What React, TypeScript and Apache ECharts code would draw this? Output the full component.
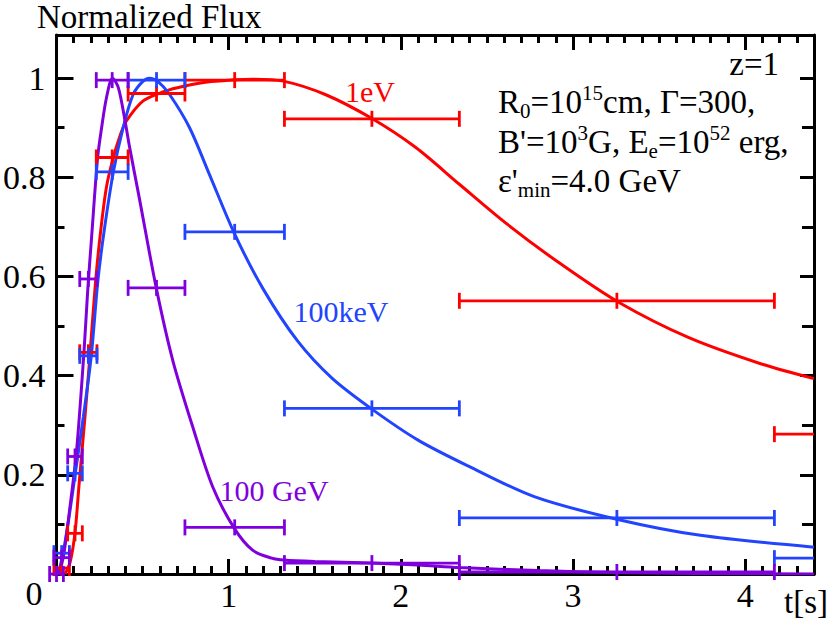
import React, { useEffect, useRef } from "react";
import * as echarts from "echarts";

const FONT = "Liberation Serif";
const RED = "#ff0000";
const BLUE = "#2244ff";
const PURPLE = "#8000dd";

// time bins (s)
const binLo = [-0.04, -0.015, 0.065, 0.135, 0.231, 0.416, 0.746, 1.324, 2.34, 4.17];
const binHi = [0.04, 0.075, 0.15, 0.235, 0.416, 0.746, 1.324, 2.34, 4.17, 7.4];

// binned fluxes
const redBins = [null, 0.012, 0.082, 0.447, 0.84, 0.969, 0.996, 0.918, 0.551, 0.282];
const blueBins = [null, 0.042, 0.203, 0.44, 0.811, 0.996, 0.69, 0.334, 0.113, 0.032];
const purpleBins = [0.0, 0.033, 0.237, 0.595, 0.996, 0.577, 0.094, 0.022, 0.004, null];

// light curves [t, flux]
const redCurve = [
  [0.05, 0], [0.08, 0.025], [0.108, 0.085], [0.131, 0.18], [0.166, 0.32], [0.194, 0.44],
  [0.227, 0.59], [0.256, 0.69], [0.29, 0.78], [0.33, 0.84], [0.37, 0.885], [0.405, 0.913],
  [0.503, 0.954], [0.618, 0.972], [0.744, 0.984], [0.9, 0.993], [1.14, 0.998], [1.318, 0.994],
  [1.561, 0.967], [1.83, 0.919], [2.087, 0.86], [2.34, 0.786], [2.616, 0.706], [2.93, 0.625],
  [3.265, 0.548], [3.67, 0.477], [4.09, 0.424], [4.4, 0.394],
];
const blueCurve = [
  [0.01, 0], [0.04, 0.045], [0.075, 0.12], [0.108, 0.2], [0.156, 0.317], [0.202, 0.44],
  [0.24, 0.59], [0.276, 0.69], [0.33, 0.81], [0.387, 0.9], [0.445, 0.967], [0.5, 0.993],
  [0.54, 1.0], [0.59, 0.993], [0.657, 0.967], [0.773, 0.9], [0.888, 0.806], [1.033, 0.687],
  [1.2, 0.575], [1.4, 0.47], [1.6, 0.395], [1.83, 0.333], [2.1, 0.27], [2.39, 0.218],
  [2.775, 0.156], [3.26, 0.11], [3.74, 0.078], [4.4, 0.054],
];
const purpleCurve = [
  [0.012, 0], [0.04, 0.035], [0.08, 0.14], [0.117, 0.25], [0.16, 0.45], [0.181, 0.57],
  [0.204, 0.68], [0.239, 0.84], [0.262, 0.9], [0.29, 0.96], [0.325, 1.0], [0.36, 0.98],
  [0.4, 0.91], [0.425, 0.86], [0.48, 0.76], [0.58, 0.576], [0.676, 0.43], [0.792, 0.296],
  [0.907, 0.176], [1.033, 0.092], [1.139, 0.048], [1.25, 0.032], [1.322, 0.028], [1.5, 0.025],
  [1.83, 0.022], [2.1, 0.018], [2.34, 0.013], [2.8, 0.007], [3.255, 0.003], [3.7, 0.001],
  [4.4, 0.0],
];

const xTickLabels = ["1", "2", "3", "4"];
const yTickLabels = ["0.2", "0.4", "0.6", "0.8", "1"];

const X_MAX = 4.4;
const Y_MAX = 1.087;

function binRows(vals: (number | null)[]) {
  const rows: number[][] = [];
  vals.forEach((v, i) => {
    if (v !== null) rows.push([binLo[i], binHi[i], v]);
  });
  return rows;
}

function errorSeries(color: string, vals: (number | null)[]) {
  return {
    type: "custom",
    xAxisIndex: 0,
    yAxisIndex: 0,
    clip: false,
    z: 3,
    encode: { x: [0, 1], y: 2 },
    data: binRows(vals),
    renderItem: (params: any, api: any) => {
      const lo = api.value(0);
      const hi = api.value(1);
      const y = api.value(2);
      const c = (lo + hi) / 2;
      const cs = params.coordSys;
      const right = cs.x + cs.width;
      const pLo = api.coord([lo, y]);
      const pHi = api.coord([hi, y]);
      const pC = api.coord([c, y]);
      const st = { stroke: color, lineWidth: 2.8, fill: "none" };
      const cap = 8;
      const children: any[] = [
        { type: "line", shape: { x1: pLo[0], y1: pLo[1], x2: Math.min(pHi[0], right), y2: pLo[1] }, style: st },
      ];
      [pLo[0], pC[0], pHi[0]].forEach((px) => {
        if (px <= right + 0.5) {
          children.push({ type: "line", shape: { x1: px, y1: pLo[1] - cap, x2: px, y2: pLo[1] + cap }, style: st });
        }
      });
      return { type: "group", children };
    },
  };
}

function lineSeries(color: string, data: number[][]) {
  return {
    type: "line",
    xAxisIndex: 0,
    yAxisIndex: 0,
    data,
    smooth: 0.3,
    showSymbol: false,
    symbol: "none",
    z: 2,
    lineStyle: { color, width: 3 },
  };
}

const black = "#000";

function xAx(position: string, interval: number, len: number, main: boolean, labels: boolean) {
  return {
    type: "value",
    position,
    min: 0,
    max: X_MAX,
    interval,
    axisLine: { show: main, onZero: false, lineStyle: { color: black, width: 3 } },
    axisTick: { show: true, inside: true, length: len, lineStyle: { color: black, width: 3 } },
    axisLabel: labels
      ? {
          show: true,
          color: black,
          fontFamily: FONT,
          fontSize: 34,
          margin: 4,
          formatter: (v: number) => {
            const k = Math.round(v);
            return Math.abs(v - k) < 1e-6 && k >= 1 && k <= 4 ? xTickLabels[k - 1] : "";
          },
        }
      : { show: false },
    splitLine: { show: false },
  };
}

function yAx(position: string, interval: number, len: number, main: boolean, labels: boolean) {
  return {
    type: "value",
    position,
    min: 0,
    max: Y_MAX,
    interval,
    axisLine: { show: main, onZero: false, lineStyle: { color: black, width: 3 } },
    axisTick: { show: true, inside: true, length: len, lineStyle: { color: black, width: 3 } },
    axisLabel: labels
      ? {
          show: true,
          color: black,
          fontFamily: FONT,
          fontSize: 34,
          margin: 11,
          formatter: (v: number) => {
            const k = Math.round(v * 5);
            return Math.abs(v * 5 - k) < 1e-6 && k >= 1 && k <= 5 ? yTickLabels[k - 1] : "";
          },
        }
      : { show: false },
    splitLine: { show: false },
  };
}

function txt(text: string, x: number, y: number, size: number, color: string, align: string, extra: any = {}) {
  return {
    type: "text",
    z: 10,
    style: {
      text,
      x,
      y,
      fill: color,
      font: size + "px " + FONT,
      align,
      verticalAlign: "middle",
      ...extra,
    },
  };
}

const richScripts = {
  sup: { fontSize: 21, fontFamily: FONT, verticalAlign: "top", lineHeight: 22 },
  sub: { fontSize: 21, fontFamily: FONT, verticalAlign: "bottom", lineHeight: 22 },
};

export default function App() {
  const ref = useRef<HTMLDivElement>(null);
  useEffect(() => {
    document.body.style.margin = "0";
    const chart = echarts.init(ref.current!, null, { renderer: "svg" });
    const option: any = {
      animation: false,
      backgroundColor: "#fff",
      grid: { left: 53, right: 17, top: 35, bottom: 47, containLabel: false },
      xAxis: [
        xAx("bottom", 1, 15, true, true),
        xAx("bottom", 0.1, 8, false, false),
        xAx("top", 1, 15, true, false),
        xAx("top", 0.1, 8, false, false),
      ],
      yAxis: [
        yAx("left", 0.2, 17, true, true),
        yAx("left", 0.1, 8, false, false),
        yAx("right", 0.2, 14, true, false),
        yAx("right", 0.1, 12, false, false),
      ],
      series: [
        lineSeries(RED, redCurve),
        lineSeries(BLUE, blueCurve),
        lineSeries(PURPLE, purpleCurve),
        errorSeries(RED, redBins),
        errorSeries(BLUE, blueBins),
        errorSeries(PURPLE, purpleBins),
      ],
      graphic: [
        txt("Normalized Flux", 37, 17, 33, black, "left"),
        txt("0", 34, 593, 34, black, "center"),
        txt("t[s]", 828, 602, 33, black, "right"),
        txt("1eV", 370, 91, 30, RED, "center"),
        txt("100keV", 341, 311, 30, BLUE, "center"),
        txt("100 GeV", 274, 490, 30, PURPLE, "center"),
        txt("z=1", 779, 64, 33, black, "right"),
        txt("R{sub|0}=10{sup|15}cm, Γ=300,", 498, 102, 33, black, "left", { lineHeight: 39, rich: richScripts }),
        txt("B'=10{sup|3}G, E{sub|e}=10{sup|52} erg,", 498, 142, 33, black, "left", { lineHeight: 39, rich: richScripts }),
        txt("ε'{sub|min}=4.0 GeV", 498, 181, 33, black, "left", { lineHeight: 39, rich: richScripts }),
      ],
    };
    chart.setOption(option);
    return () => chart.dispose();
  }, []);
  return <div ref={ref} style={{ width: 831, height: 621 }} />;
}
